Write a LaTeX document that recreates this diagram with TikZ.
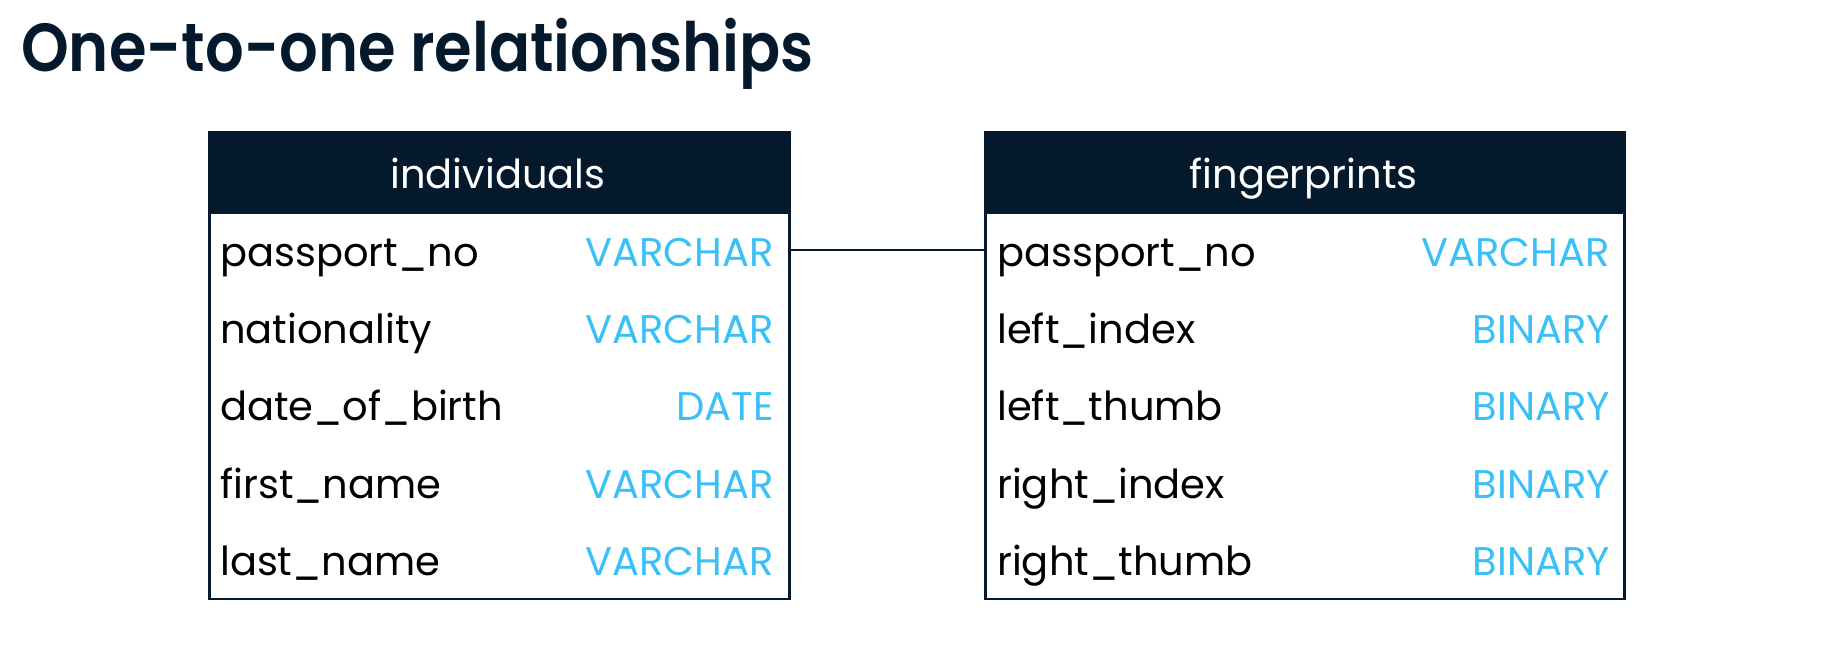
\documentclass[tikz,border=0pt]{standalone}
\usepackage{fontspec}
\setmainfont{Poppins}
\newfontfamily\titlefont{Poppins SemiBold}[FakeStretch=0.893]
\definecolor{navy}{HTML}{05192D}
\definecolor{typeblue}{HTML}{3AC0F8}
\newcommand\tabfont{\fontsize{40}{48}\selectfont}
\begin{document}
\begin{tikzpicture}[x=1pt,y=-1pt,
  hdr/.style={draw=navy, line width=2.5pt, fill=navy, minimum height=80pt, inner sep=0, anchor=north west},
  body/.style={draw=navy, line width=2.5pt, minimum height=386.6pt, anchor=north west, inner sep=0},
  rowbox/.style={minimum height=77.3pt, inner sep=0, anchor=north west},
  htext/.style={font=\tabfont, text=white, anchor=base, inner sep=0},
  fname/.style={font=\tabfont, text=black, anchor=base west, inner sep=0},
  ftype/.style={font=\tabfont, text=typeblue, anchor=base east, inner sep=0},
  link/.style={draw=navy, line width=2.6pt}]
\useasboundingbox (0,0) rectangle (1841,660);
\node[anchor=base west, inner sep=0, font=\titlefont\fontsize{68}{80}\selectfont, text=navy] (title) at (21,71.7) {One-to-one relationships};

% individuals
\node[body, minimum width=580pt] (ibody) at (208,211) {};
\node[hdr, minimum width=580pt] (ihdr) at (208,131.5) {};
\node[htext] (ihtext) at (498,189) {individuals};
\node[rowbox, minimum width=580pt] (ir1) at (208,211) {};
\node[fname] (in1) at (220,266.5) {passport\_no};
\node[ftype] (it1) at (774,266.5) {VARCHAR};
\node[fname] (in2) at (220,343.7) {nationality};
\node[ftype] (it2) at (774,343.7) {VARCHAR};
\node[fname] (in3) at (220,420.9) {date\_of\_birth};
\node[ftype] (it3) at (774,420.9) {DATE};
\node[fname] (in4) at (220,498.1) {first\_name};
\node[ftype] (it4) at (774,498.1) {VARCHAR};
\node[fname] (in5) at (220,575.3) {last\_name};
\node[ftype] (it5) at (774,575.3) {VARCHAR};

% fingerprints
\node[body, minimum width=639pt] (fbody) at (984,211) {};
\node[hdr, minimum width=639pt] (fhdr) at (984,131.5) {};
\node[htext] (fhtext) at (1303.5,189) {fingerprints};
\node[rowbox, minimum width=639pt] (fr1) at (984,211) {};
\node[fname] (fn1) at (997,266.5) {passport\_no};
\node[ftype] (ft1) at (1610,266.5) {VARCHAR};
\node[fname] (fn2) at (997,343.7) {left\_index};
\node[ftype] (ft2) at (1610,343.7) {BINARY};
\node[fname] (fn3) at (997,420.9) {left\_thumb};
\node[ftype] (ft3) at (1610,420.9) {BINARY};
\node[fname] (fn4) at (997,498.1) {right\_index};
\node[ftype] (ft4) at (1610,498.1) {BINARY};
\node[fname] (fn5) at (997,575.3) {right\_thumb};
\node[ftype] (ft5) at (1610,575.3) {BINARY};

\draw[link] (ir1.east) -- (fr1.west);
\end{tikzpicture}
\end{document}
